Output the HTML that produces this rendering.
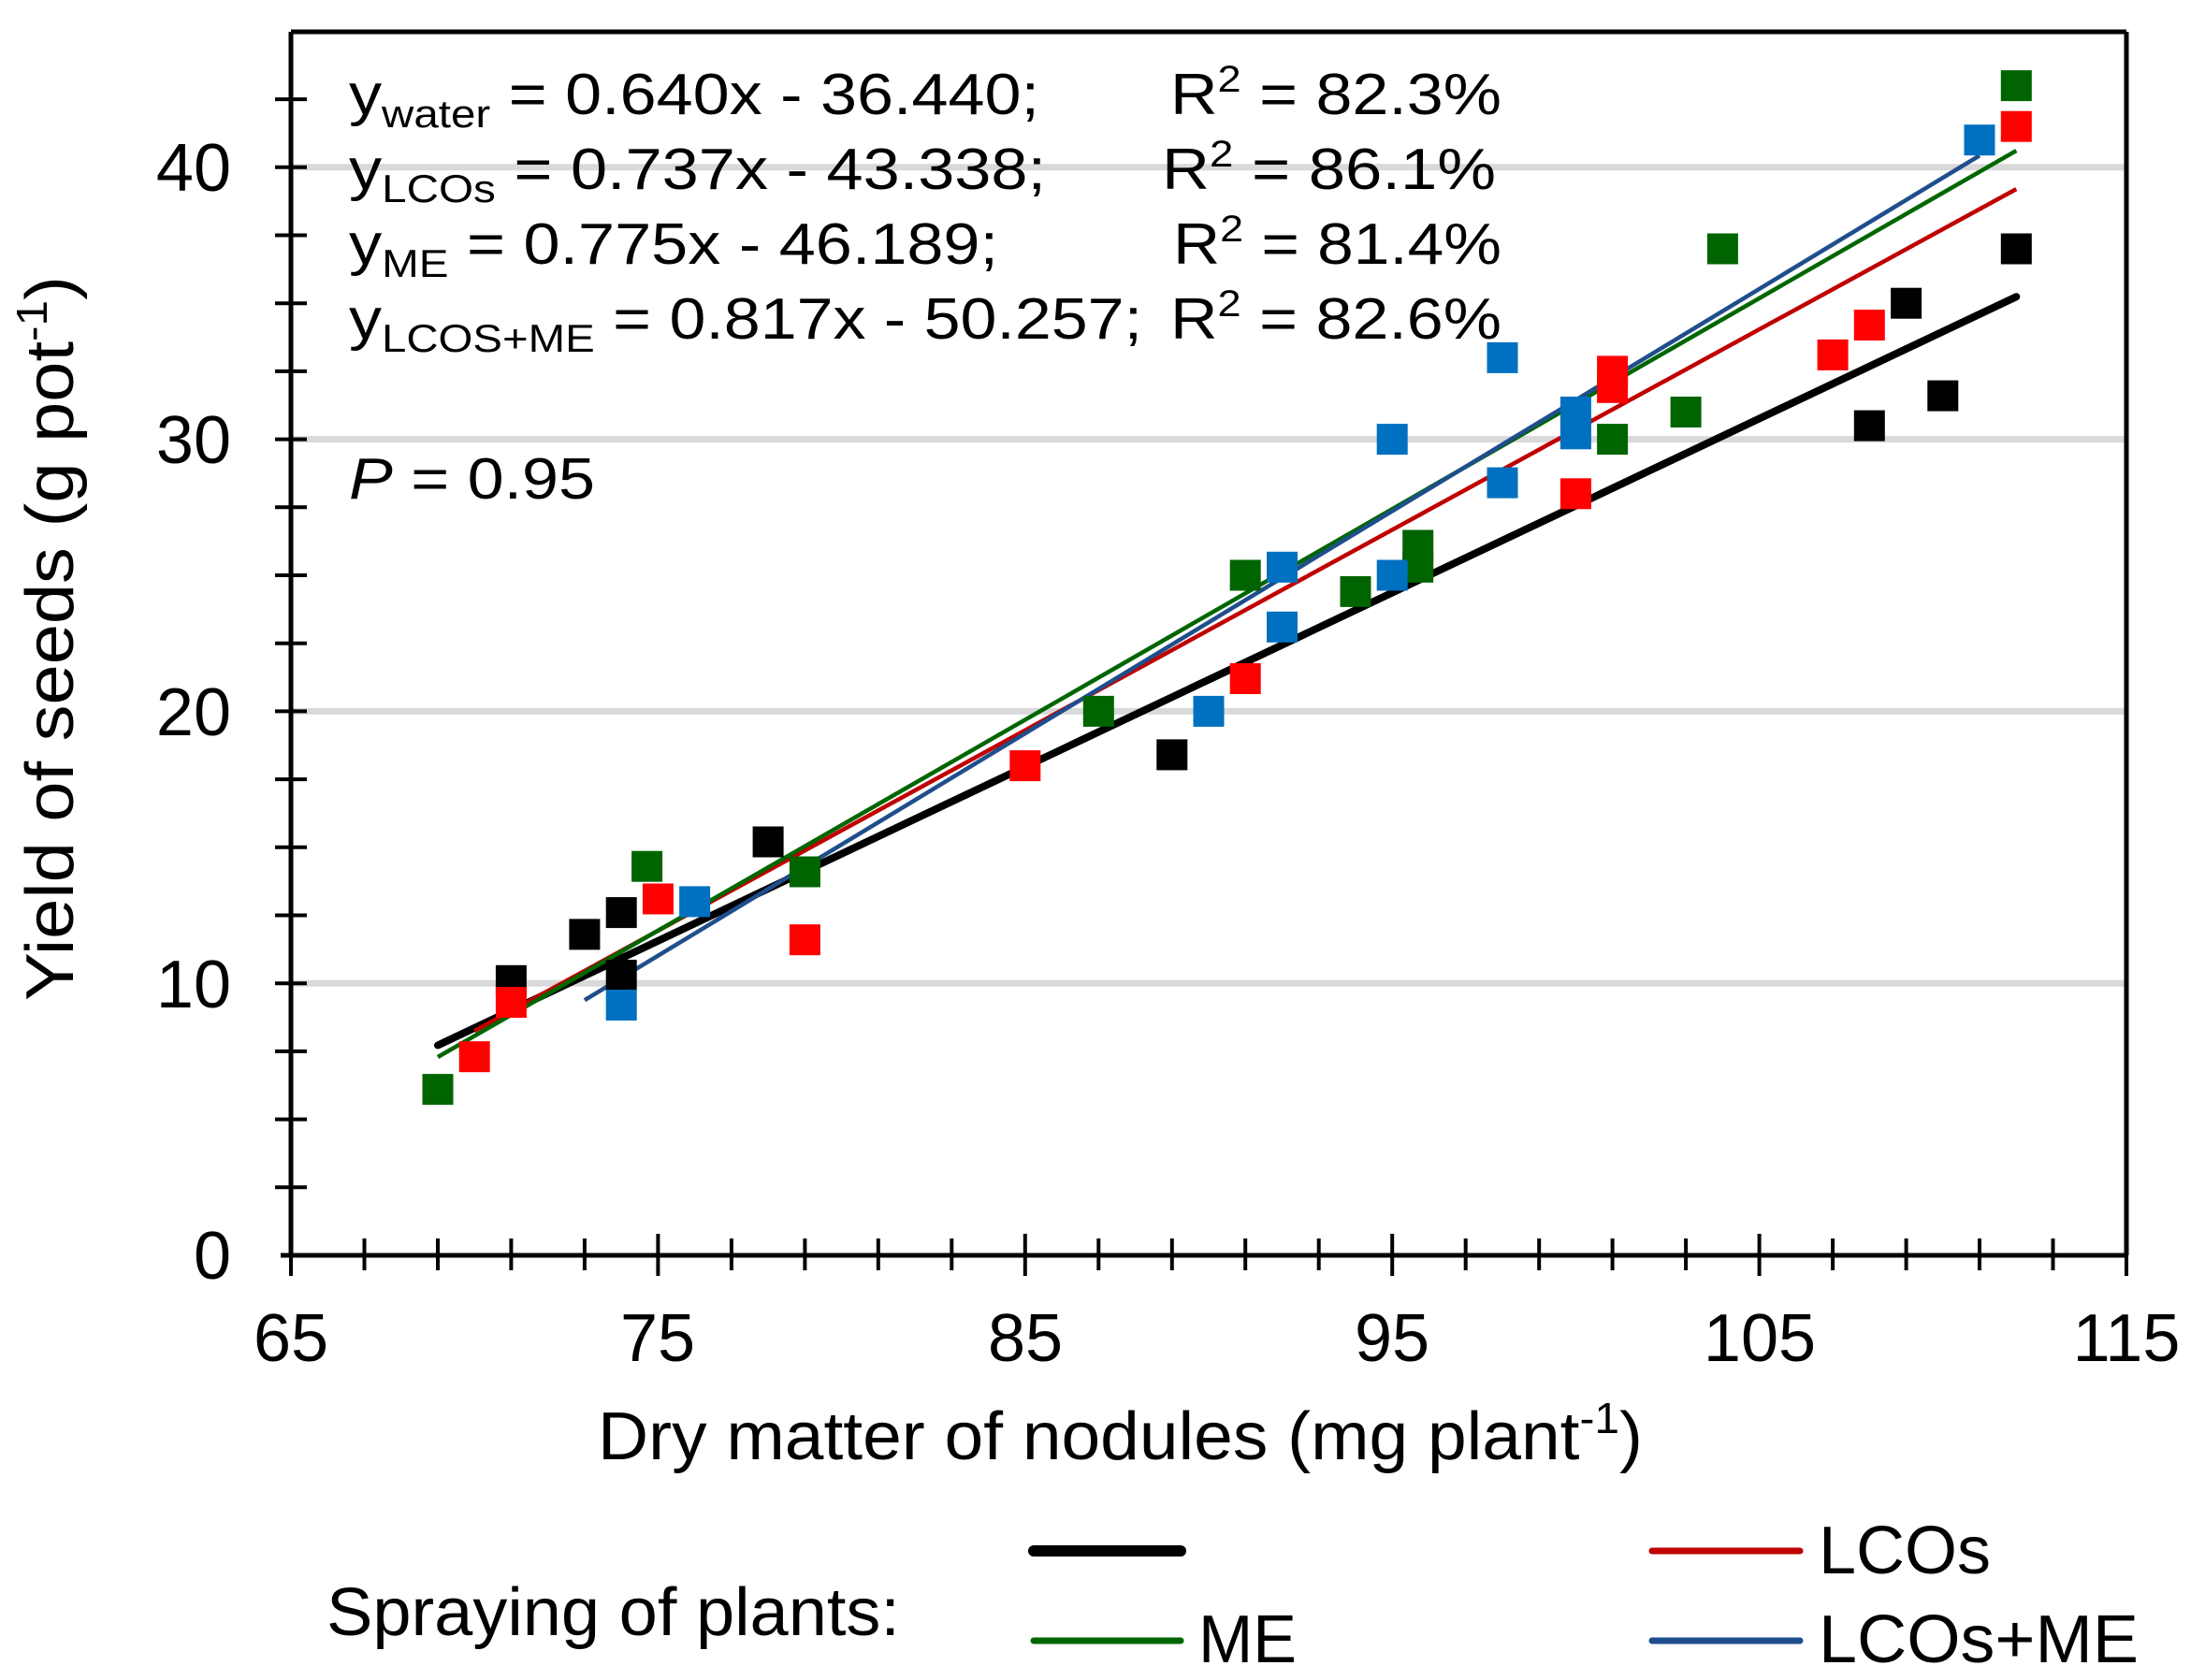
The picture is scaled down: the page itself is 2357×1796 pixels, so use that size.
<!DOCTYPE html>
<html><head><meta charset="utf-8"><style>html,body{margin:0;padding:0;background:#fff}svg{display:block}</style></head>
<body>
<svg width="2357" height="1796" viewBox="0 0 2357 1796" xmlns="http://www.w3.org/2000/svg" font-family="Liberation Sans, Arial, sans-serif">
<rect width="2357" height="1796" fill="#fff"/>
<!-- gridlines -->
<g stroke="#d9d9d9" stroke-width="7">
<line x1="311" y1="1051.2" x2="2273" y2="1051.2"/>
<line x1="311" y1="760.4" x2="2273" y2="760.4"/>
<line x1="311" y1="469.6" x2="2273" y2="469.6"/>
<line x1="311" y1="178.8" x2="2273" y2="178.8"/>
</g>
<!-- frame -->
<g stroke="#000" stroke-width="5" fill="none">
<line x1="311" y1="34" x2="2273" y2="34"/>
<line x1="2273" y1="34" x2="2273" y2="1342"/>
<line x1="311" y1="34" x2="311" y2="1344"/>
<line x1="300" y1="1342" x2="2273" y2="1342"/>
</g>
<!-- y ticks -->
<g stroke="#000" stroke-width="4">
<line x1="294" y1="1269.3" x2="328" y2="1269.3"/><line x1="294" y1="1196.6" x2="328" y2="1196.6"/><line x1="294" y1="1123.9" x2="328" y2="1123.9"/><line x1="294" y1="1051.2" x2="328" y2="1051.2"/>
<line x1="294" y1="978.5" x2="328" y2="978.5"/><line x1="294" y1="905.8" x2="328" y2="905.8"/><line x1="294" y1="833.1" x2="328" y2="833.1"/><line x1="294" y1="760.4" x2="328" y2="760.4"/>
<line x1="294" y1="687.7" x2="328" y2="687.7"/><line x1="294" y1="615" x2="328" y2="615"/><line x1="294" y1="542.3" x2="328" y2="542.3"/><line x1="294" y1="469.6" x2="328" y2="469.6"/>
<line x1="294" y1="396.9" x2="328" y2="396.9"/><line x1="294" y1="324.2" x2="328" y2="324.2"/><line x1="294" y1="251.5" x2="328" y2="251.5"/><line x1="294" y1="178.8" x2="328" y2="178.8"/>
<line x1="294" y1="106.1" x2="328" y2="106.1"/>
</g>
<!-- x ticks -->
<g stroke="#000" stroke-width="4">
<line x1="311" y1="1319" x2="311" y2="1364"/>
<line x1="389.5" y1="1324" x2="389.5" y2="1358"/><line x1="468" y1="1324" x2="468" y2="1358"/><line x1="546.4" y1="1324" x2="546.4" y2="1358"/><line x1="624.9" y1="1324" x2="624.9" y2="1358"/>
<line x1="703.4" y1="1319" x2="703.4" y2="1364"/>
<line x1="781.9" y1="1324" x2="781.9" y2="1358"/><line x1="860.4" y1="1324" x2="860.4" y2="1358"/><line x1="938.8" y1="1324" x2="938.8" y2="1358"/><line x1="1017.3" y1="1324" x2="1017.3" y2="1358"/>
<line x1="1095.8" y1="1319" x2="1095.8" y2="1364"/>
<line x1="1174.3" y1="1324" x2="1174.3" y2="1358"/><line x1="1252.8" y1="1324" x2="1252.8" y2="1358"/><line x1="1331.2" y1="1324" x2="1331.2" y2="1358"/><line x1="1409.7" y1="1324" x2="1409.7" y2="1358"/>
<line x1="1488.2" y1="1319" x2="1488.2" y2="1364"/>
<line x1="1566.7" y1="1324" x2="1566.7" y2="1358"/><line x1="1645.2" y1="1324" x2="1645.2" y2="1358"/><line x1="1723.6" y1="1324" x2="1723.6" y2="1358"/><line x1="1802.1" y1="1324" x2="1802.1" y2="1358"/>
<line x1="1880.6" y1="1319" x2="1880.6" y2="1364"/>
<line x1="1959.1" y1="1324" x2="1959.1" y2="1358"/><line x1="2037.6" y1="1324" x2="2037.6" y2="1358"/><line x1="2116" y1="1324" x2="2116" y2="1358"/><line x1="2194.5" y1="1324" x2="2194.5" y2="1358"/>
<line x1="2273" y1="1319" x2="2273" y2="1364"/>
</g>
<!-- tick labels -->
<g font-size="72" fill="#000">
<g text-anchor="end">
<text x="247" y="1367">0</text>
<text x="247" y="1077">10</text>
<text x="247" y="786">20</text>
<text x="247" y="495">30</text>
<text x="247" y="204">40</text>
</g>
<g text-anchor="middle">
<text x="311" y="1455">65</text>
<text x="703" y="1455">75</text>
<text x="1096" y="1455">85</text>
<text x="1488" y="1455">95</text>
<text x="1881" y="1455">105</text>
<text x="2273" y="1455">115</text>
</g>
</g>
<!-- trend lines -->
<line x1="468" y1="1117.5" x2="2155.3" y2="317.2" stroke="#000" stroke-width="8" stroke-linecap="round"/>
<line x1="507.2" y1="1102.1" x2="2155.3" y2="202.1" stroke="#c00000" stroke-width="4.5"/>
<line x1="468" y1="1130" x2="2155.3" y2="161.1" stroke="#006600" stroke-width="4.5"/>
<line x1="624.9" y1="1069.2" x2="2116" y2="166.3" stroke="#1f4e8c" stroke-width="4.5"/>
<!-- markers -->
<defs><rect id="m" x="-16.5" y="-16.5" width="33" height="33"/></defs>
<g fill="#000">
<use href="#m" x="546.4" y="1048.3"/><use href="#m" x="624.9" y="998.9"/><use href="#m" x="664.2" y="975.6"/><use href="#m" x="664.2" y="1042.5"/><use href="#m" x="821.1" y="900"/><use href="#m" x="1252.8" y="806.9"/><use href="#m" x="1998.3" y="455.1"/><use href="#m" x="2037.6" y="324.2"/><use href="#m" x="2076.8" y="423.1"/><use href="#m" x="2155.3" y="266"/>
</g>
<g fill="#ff0000">
<use href="#m" x="507.2" y="1129.7"/><use href="#m" x="546.4" y="1071.6"/><use href="#m" x="703.4" y="961"/><use href="#m" x="860.4" y="1004.7"/><use href="#m" x="1095.8" y="818.6"/><use href="#m" x="1331.2" y="725.5"/><use href="#m" x="1684.4" y="527.8"/><use href="#m" x="1723.6" y="396.9"/><use href="#m" x="1723.6" y="414.3"/><use href="#m" x="1959.1" y="379.4"/><use href="#m" x="1998.3" y="347.5"/><use href="#m" x="2155.3" y="135.2"/>
</g>
<g fill="#006400">
<use href="#m" x="468" y="1164.6"/><use href="#m" x="691.6" y="926.2"/><use href="#m" x="860.4" y="932"/><use href="#m" x="1174.3" y="760.4"/><use href="#m" x="1331.2" y="615"/><use href="#m" x="1449" y="632.4"/><use href="#m" x="1515.7" y="606.3"/><use href="#m" x="1515.7" y="583"/><use href="#m" x="1723.6" y="469.6"/><use href="#m" x="1802.1" y="440.5"/><use href="#m" x="1841.4" y="266"/><use href="#m" x="2155.3" y="91.6"/>
</g>
<g fill="#0070c0">
<use href="#m" x="664.2" y="1074.5"/><use href="#m" x="742.6" y="963.9"/><use href="#m" x="1292" y="760.4"/><use href="#m" x="1370.5" y="606.3"/><use href="#m" x="1370.5" y="670.3"/><use href="#m" x="1488.2" y="469.6"/><use href="#m" x="1488.2" y="615"/><use href="#m" x="1606" y="382.4"/><use href="#m" x="1606" y="516.1"/><use href="#m" x="1684.4" y="440.5"/><use href="#m" x="1684.4" y="463.8"/><use href="#m" x="2116" y="149.7"/>
</g>
<!-- equations -->
<g font-size="62" fill="#000">
<text x="373" y="122" textLength="738" lengthAdjust="spacingAndGlyphs">y<tspan font-size="42" dy="14">water</tspan><tspan dy="-14"> = 0.640x - 36.440;</tspan></text>
<text x="1251" y="122" textLength="354" lengthAdjust="spacingAndGlyphs">R<tspan font-size="40" dy="-24">2</tspan><tspan dy="24"> = 82.3%</tspan></text>
<text x="373" y="202" textLength="745" lengthAdjust="spacingAndGlyphs">y<tspan font-size="42" dy="14">LCOs</tspan><tspan dy="-14"> = 0.737x - 43.338;</tspan></text>
<text x="1242" y="202" textLength="357" lengthAdjust="spacingAndGlyphs">R<tspan font-size="40" dy="-24">2</tspan><tspan dy="24"> = 86.1%</tspan></text>
<text x="373" y="282" textLength="694" lengthAdjust="spacingAndGlyphs">y<tspan font-size="42" dy="14">ME</tspan><tspan dy="-14"> = 0.775x - 46.189;</tspan></text>
<text x="1254" y="282" textLength="351" lengthAdjust="spacingAndGlyphs">R<tspan font-size="40" dy="-24">2</tspan><tspan dy="24"> = 81.4%</tspan></text>
<text x="373" y="362" textLength="848" lengthAdjust="spacingAndGlyphs">y<tspan font-size="42" dy="14">LCOS+ME</tspan><tspan dy="-14"> = 0.817x - 50.257;</tspan></text>
<text x="1251" y="362" textLength="354" lengthAdjust="spacingAndGlyphs">R<tspan font-size="40" dy="-24">2</tspan><tspan dy="24"> = 82.6%</tspan></text>
<text x="373" y="533" textLength="263" lengthAdjust="spacingAndGlyphs"><tspan font-style="italic">P</tspan> = 0.95</text>
</g>
<!-- axis titles -->
<g font-size="72" fill="#000">
<text x="639" y="1560" textLength="1117" lengthAdjust="spacingAndGlyphs">Dry matter of nodules (mg plant<tspan font-size="46" dy="-28">-1</tspan><tspan dy="28">)</tspan></text>
<text transform="translate(78,1070) rotate(-90)" x="0" y="0" textLength="775" lengthAdjust="spacingAndGlyphs">Yield of seeds (g pot<tspan font-size="46" dy="-28">-1</tspan><tspan dy="28">)</tspan></text>
</g>
<!-- legend -->
<line x1="1105" y1="1658" x2="1262" y2="1658" stroke="#000" stroke-width="12" stroke-linecap="round"/>
<line x1="1766" y1="1658" x2="1924" y2="1658" stroke="#c00000" stroke-width="7" stroke-linecap="round"/>
<line x1="1105" y1="1754" x2="1262" y2="1754" stroke="#006600" stroke-width="7" stroke-linecap="round"/>
<line x1="1766" y1="1754" x2="1924" y2="1754" stroke="#1f4e8c" stroke-width="7" stroke-linecap="round"/>
<g font-size="72" fill="#000">
<text x="349" y="1748" textLength="613" lengthAdjust="spacingAndGlyphs">Spraying of plants:</text>
<text x="1944" y="1682" textLength="184" lengthAdjust="spacingAndGlyphs">LCOs</text>
<text x="1281" y="1777" textLength="105" lengthAdjust="spacingAndGlyphs">ME</text>
<text x="1944" y="1777" textLength="342" lengthAdjust="spacingAndGlyphs">LCOs+ME</text>
</g>
</svg>
</body></html>
